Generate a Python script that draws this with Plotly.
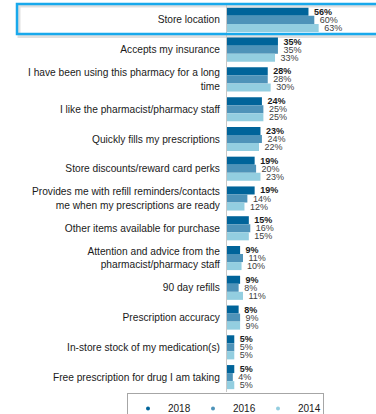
import plotly.graph_objects as go

# Reasons for choosing a pharmacy, share of respondents (%) by survey year
categories = [
    "Store location",
    "Accepts my insurance",
    "I have been using this pharmacy for a long<br>time",
    "I like the pharmacist/pharmacy staff",
    "Quickly fills my prescriptions",
    "Store discounts/reward card perks",
    "Provides me with refill reminders/contacts<br>me when my prescriptions are ready",
    "Other items available for purchase",
    "Attention and advice from the<br>pharmacist/pharmacy staff",
    "90 day refills",
    "Prescription accuracy",
    "In-store stock of my medication(s)",
    "Free prescription for drug I am taking",
]
years = ["2018", "2016", "2014"]
values_2018 = [56, 35, 28, 24, 23, 19, 19, 15, 9, 9, 8, 5, 5]
values_2016 = [60, 35, 28, 25, 24, 20, 14, 16, 11, 8, 9, 5, 4]
values_2014 = [63, 33, 30, 25, 22, 23, 12, 15, 10, 11, 9, 5, 5]
colors = ["#00649a", "#4e93b9", "#93cee0"]

W, H = 376, 414
ML, MR, MT, MB = 227, 0, 5, 22
PW, PH = W - ML - MR, H - MT - MB


def px_x(px):
    return (px - ML) / PW


def px_y(py):
    return (H - MB - py) / PH


fig = go.Figure()
series = [values_2018, values_2016, values_2014]
for i, (year, vals, col) in enumerate(zip(years, series, colors)):
    fig.add_trace(go.Bar(
        y=categories, x=vals, orientation="h", name=year,
        marker=dict(color=col, line=dict(width=0)),
        text=[f"\u00a0{v}%" for v in vals],
        texttemplate="%{text}",
        textposition="outside",
        constraintext="none",
        cliponaxis=False,
        textfont=dict(family="Liberation Sans, Arial, sans-serif", size=9,
                      color="#1a1a1a" if i == 0 else "#404040",
                      weight="bold" if i == 0 else "normal"),
        showlegend=False,
    ))

# Legend entries drawn as small dots
for year, col in zip(years, colors):
    fig.add_trace(go.Scatter(
        x=[None], y=[None], mode="markers", name=year,
        marker=dict(color=col, size=4, symbol="circle"),
        showlegend=True,
    ))

# Highlight frame around the top reason (with a soft shadow)
fig.add_shape(type="rect", xref="paper", yref="paper",
              x0=px_x(19), x1=px_x(385), y0=px_y(36.5), y1=px_y(6),
              line=dict(color="rgba(0,0,0,0.12)", width=3), layer="below")
fig.add_shape(type="rect", xref="paper", yref="paper",
              x0=px_x(17), x1=px_x(385), y0=px_y(34), y1=px_y(4),
              line=dict(color="#19a9ec", width=2.5), layer="above")

fig.update_layout(
    width=W, height=H,
    margin=dict(l=ML, r=MR, t=MT, b=MB, autoexpand=False),
    paper_bgcolor="white", plot_bgcolor="white",
    barmode="group", bargap=0.19, bargroupgap=0,
    font=dict(family="Liberation Sans, Arial, sans-serif", size=10, color="#1a1a1a"),
    xaxis=dict(range=[0, PW / 1.455], visible=False, fixedrange=True),
    yaxis=dict(
        categoryorder="array", categoryarray=categories,
        range=[12.5, -0.5],
        showline=True, linecolor="#c8c8c8", linewidth=1,
        showgrid=False, zeroline=False, ticks="",
        ticklabelstandoff=4,
        tickfont=dict(size=10.2, color="#1a1a1a"),
        fixedrange=True,
    ),
    legend=dict(
        orientation="h", x=px_x(127), y=px_y(393),
        xanchor="left", yanchor="top",
        bordercolor="#a6a6a6", borderwidth=1,
        font=dict(size=10, color="#1a1a1a"),
        entrywidth=20, entrywidthmode="pixels",
        itemwidth=30, traceorder="normal",
    ),
)

fig.write_html("out.html")
